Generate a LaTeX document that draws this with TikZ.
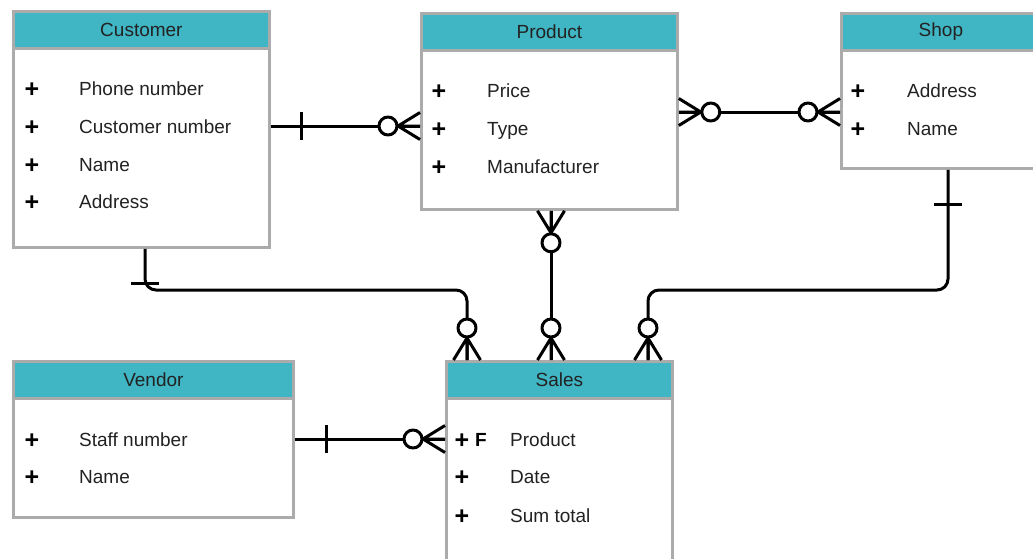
\documentclass[tikz,border=0pt]{standalone}
\usepackage{fontspec}
\setmainfont{Liberation Sans}
\usetikzlibrary{calc}
\definecolor{teal1}{HTML}{40B5C3}
\definecolor{bord}{HTML}{ABABAB}
\definecolor{txt}{HTML}{222222}
\newcommand\crowO[2]{\begin{scope}[shift={(#1)},rotate=#2]
  \draw[conn] (0,13.5) -- (22,0) -- (0,-13.5) (0,0) -- (22,0);
  \draw[conn,fill=white] (32,0) circle[radius=9];
\end{scope}}
\newcommand\barmark[3]{\begin{scope}[shift={(#1)},rotate=#2]
  \draw[conn] (#3,-14) -- (#3,14);
\end{scope}}
\begin{document}
\begin{tikzpicture}[x=1pt,y=-1pt,
  box/.style={draw=bord, line width=2.8pt, fill=white, anchor=north west, inner sep=0},
  head/.style={draw=bord, line width=2.8pt, fill=teal1, anchor=north west, inner sep=0,
    minimum height=37, font=\fontsize{19}{22}\selectfont, text=txt},
  attr/.style={anchor=base west, inner sep=0, font=\fontsize{19}{22}\selectfont, text=txt},
  key/.style={anchor=base, inner sep=0, font=\fontsize{25}{28}\selectfont\bfseries, text=black},
  fk/.style={anchor=base, inner sep=0, font=\fontsize{19}{22}\selectfont\bfseries, text=black},
  conn/.style={line width=3pt, black, line join=round},
]
\useasboundingbox (0,0) rectangle (1033,558);
\clip (0,0) rectangle (1033,558);

% Customer
\node[box, minimum width=256, minimum height=236] (customer) at (12,10) {};
\node[head, minimum width=256] (customerH) at (customer.north west) {Customer};
\node[key] (cuk1) at (32,97.5) {+};  \node[attr] (cua1) at (79,95) {Phone number};
\node[key] (cuk2) at (32,135.5) {+}; \node[attr] (cua2) at (79,133) {Customer number};
\node[key] (cuk3) at (32,173.5) {+}; \node[attr] (cua3) at (79,171) {Name};
\node[key] (cuk4) at (32,210.5) {+}; \node[attr] (cua4) at (79,208) {Address};

% Product
\node[box, minimum width=256, minimum height=196] (product) at (420,12) {};
\node[head, minimum width=256] (productH) at (product.north west) {Product};
\node[key] (prk1) at (439,99.5) {+};  \node[attr] (pra1) at (487,97) {Price};
\node[key] (prk2) at (439,137.5) {+}; \node[attr] (pra2) at (487,135) {Type};
\node[key] (prk3) at (439,175.5) {+}; \node[attr] (pra3) at (487,173) {Manufacturer};

% Shop
\node[box, minimum width=220, minimum height=155] (shop) at (840,12) {};
\node[head, minimum width=220] (shopH) at (shop.north west) {\hspace*{-21pt}Shop};
\node[key] (shk1) at (858,99.5) {+};  \node[attr] (sha1) at (907,97) {Address};
\node[key] (shk2) at (858,137.5) {+}; \node[attr] (sha2) at (907,135) {Name};

% Vendor
\node[box, minimum width=280, minimum height=156] (vendor) at (12,360) {};
\node[head, minimum width=280] (vendorH) at (vendor.north west) {Vendor};
\node[key] (vek1) at (32,448.5) {+}; \node[attr] (vea1) at (79,446) {Staff number};
\node[key] (vek2) at (32,485.5) {+}; \node[attr] (vea2) at (79,483) {Name};

% Sales
\node[box, minimum width=226, minimum height=220] (sales) at (445,360) {};
\node[head, minimum width=226] (salesH) at (sales.north west) {Sales};
\node[key] (sak1) at (462,448.5) {+}; \node[fk] (saf1) at (481,446) {F}; \node[attr] (saa1) at (510,446) {Product};
\node[key] (sak2) at (462,485.5) {+}; \node[attr] (saa2) at (510,483) {Date};
\node[key] (sak3) at (462,524.5) {+}; \node[attr] (saa3) at (510,522) {Sum total};

% connector end points
\coordinate (c1a) at (customer.east |- 0,126);
\coordinate (c1b) at (product.west |- 0,126);
\coordinate (c2a) at (product.east |- 0,112);
\coordinate (c2b) at (shop.west |- 0,112);
\coordinate (c3a) at ($(product.south west)+(131,0)$);
\coordinate (c3b) at ($(sales.north west)+(106,0)$);
\coordinate (c4a) at ($(customer.south west)+(133,0)$);
\coordinate (c4b) at ($(sales.north west)+(22,0)$);
\coordinate (c5a) at ($(shop.south west)+(108,0)$);
\coordinate (c5b) at ($(sales.north west)+(203,0)$);
\coordinate (c6a) at (vendor.east |- 0,439);
\coordinate (c6b) at (sales.west |- 0,439);

% Customer - Product
\draw[conn] (c1a) -- (c1b);
\barmark{c1a}{0}{31}
\crowO{c1b}{180}
% Product - Shop
\draw[conn] (c2a) -- (c2b);
\crowO{c2a}{0}
\crowO{c2b}{180}
% Product - Sales
\draw[conn] (c3a) -- (c3b);
\crowO{c3a}{270}
\crowO{c3b}{90}
% Customer - Sales
\draw[conn, rounded corners=11] (c4a) -- (c4a |- 0,290) -- (c4b |- 0,290) -- (c4b);
\barmark{c4a}{270}{35}
\crowO{c4b}{90}
% Shop - Sales
\draw[conn, rounded corners=11] (c5a) -- (c5a |- 0,290) -- (c5b |- 0,290) -- (c5b);
\barmark{c5a}{270}{35}
\crowO{c5b}{90}
% Vendor - Sales
\draw[conn] (c6a) -- (c6b);
\barmark{c6a}{0}{32}
\crowO{c6b}{180}
\end{tikzpicture}
\end{document}
